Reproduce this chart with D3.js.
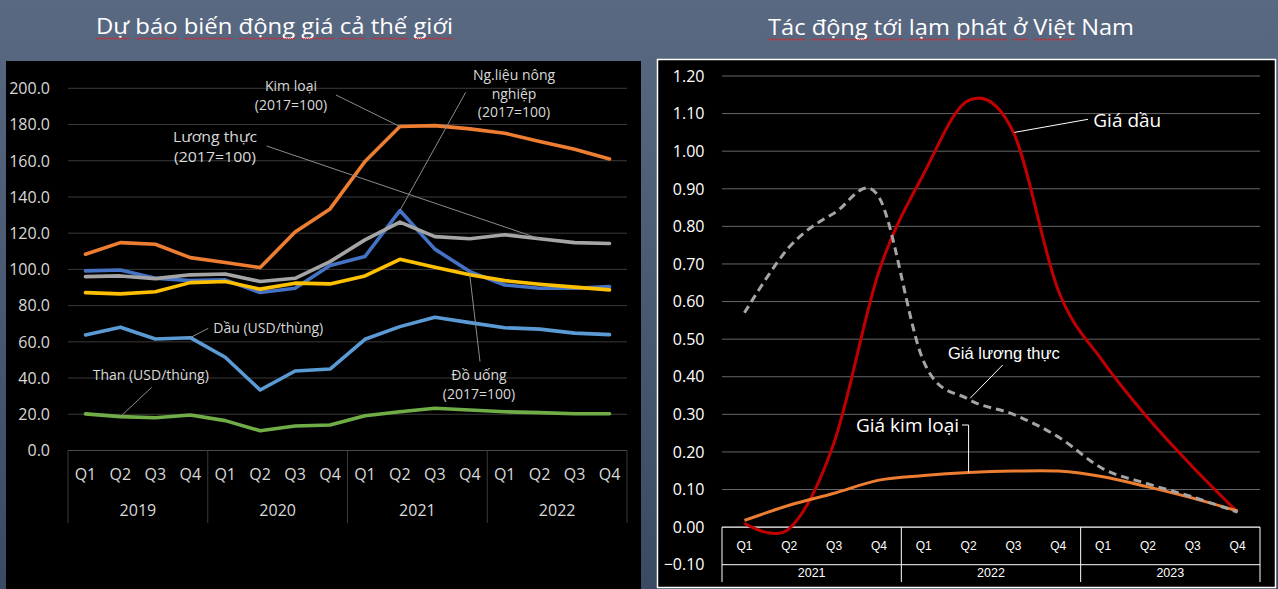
<!DOCTYPE html>
<html><head><meta charset="utf-8">
<script src="https://cdn.jsdelivr.net/npm/d3@7"></script>
<style>
html,body{margin:0;padding:0;width:1278px;height:589px;overflow:hidden;background:#56657f;}
svg{display:block}
</style></head><body>
<svg id="c" width="1278" height="589"></svg>
<script>
// ---------------- DATA: left chart ----------------
const leftQuarters = ["Q1","Q2","Q3","Q4"];
const leftYears = ["2019","2020","2021","2022"];
const leftTicks = [0,20,40,60,80,100,120,140,160,180,200];
const kimLoai   = [108.4,114.8,113.9,106.5,103.8,101.0,120.6,133.4,159.6,178.9,179.4,177.6,175.2,170.6,166.4,161.0];
const luongThuc = [96.0,96.4,94.9,97.0,97.5,93.3,95.1,104.3,116.3,126.1,118.1,116.9,119.1,116.9,114.8,114.3];
const ngLieu    = [99.2,99.7,95.1,93.8,94.2,87.2,89.6,102.1,107.1,132.5,111.2,98.8,91.4,89.6,89.6,90.5];
const doUong    = [87.2,86.5,87.7,92.7,93.3,89.1,92.4,92.0,96.4,105.6,101.2,97.0,93.8,91.8,90.2,88.7];
const dau       = [63.8,68.1,61.6,62.3,51.5,33.4,43.9,45.0,61.4,68.4,73.6,70.6,67.8,67.0,64.8,64.0];
const than      = [20.2,18.7,18.1,19.6,16.5,10.9,13.5,14.1,19.2,21.4,23.3,22.4,21.4,20.9,20.3,20.3];

// ---------------- DATA: right chart ----------------
const rightQuarters = ["Q1","Q2","Q3","Q4"];
const rightYears = ["2021","2022","2023"];
const rightTicks = [-0.1,0,0.1,0.2,0.3,0.4,0.5,0.6,0.7,0.8,0.9,1.0,1.1,1.2];
const giaDau       = [0.01,-0.004,0.225,0.68,0.94,1.135,1.05,0.63,0.44,0.29,0.16,0.04];
const giaLuongThuc = [0.57,0.745,0.835,0.878,0.44,0.34,0.30,0.24,0.155,0.115,0.08,0.04];
const giaKimLoai   = [0.018,0.058,0.09,0.125,0.137,0.145,0.149,0.149,0.134,0.107,0.077,0.043];

const FONT = "'Open Sans', 'DejaVu Sans', sans-serif";
const ARIAL = "'Liberation Sans', Arial, sans-serif";
const svg = d3.select("#c");

// background gradient
const defs = svg.append("defs");
const g0 = defs.append("linearGradient").attr("id","bg").attr("x1",0).attr("y1",0).attr("x2",0).attr("y2",1);
g0.append("stop").attr("offset","0%").attr("stop-color","#5a6982");
g0.append("stop").attr("offset","100%").attr("stop-color","#3b4a63");
svg.append("rect").attr("width",1278).attr("height",589).attr("fill","url(#bg)");

// panels
svg.append("rect").attr("x",6).attr("y",61).attr("width",635).attr("height",530).attr("fill","#000");
svg.append("rect").attr("x",657.5).attr("y",59.5).attr("width",618).attr("height",528).attr("fill","#000").attr("stroke","#fff").attr("stroke-width",1.5);

// titles with wavy spell-check underline
function title(txt, cx, y, len, skipLast){
  const t = svg.append("text").attr("x",cx).attr("y",y).attr("text-anchor","middle")
    .attr("font-family",FONT).attr("font-size",22).attr("fill","#fff")
    .attr("textLength",len).attr("lengthAdjust","spacingAndGlyphs").text(txt);
  const node = t.node();
  const words = txt.split(" ");
  let idx = 0;
  words.forEach((w,wi)=>{
    const s = idx, e = idx + w.length - 1;
    idx += w.length + 1;
    if (skipLast && wi === words.length-1) return;
    const x0 = node.getStartPositionOfChar(s).x;
    const x1 = node.getEndPositionOfChar(e).x;
    let d = "M"+x0+","+(y+4);
    for (let x=x0; x<x1; x+=2){ d += "L"+Math.min(x+2,x1)+","+(y+4+((Math.round((x-x0)/2)%2===0)?1.3:-0.2)); }
    svg.append("path").attr("d",d).attr("fill","none").attr("stroke","#e02020").attr("stroke-width",0.9);
  });
}
title("Dự báo biến động giá cả thế giới", 274.5, 34, 357, false);
title("Tác động tới lạm phát ở Việt Nam", 951, 35, 366, true);

// ---------------- LEFT CHART ----------------
const xL = d3.scaleBand().domain(d3.range(16)).range([68,627]);
const yL = d3.scaleLinear().domain([0,200]).range([450.5,88.3]);
const cxL = i => xL(i) + xL.bandwidth()/2;
const L = svg.append("g");

L.selectAll(".gl").data(leftTicks.filter(d=>d>0)).join("line")
  .attr("x1",68).attr("x2",627).attr("y1",d=>yL(d)).attr("y2",d=>yL(d))
  .attr("stroke","#3a3a3a").attr("stroke-width",1);
L.append("line").attr("x1",68).attr("x2",627).attr("y1",yL(0)).attr("y2",yL(0)).attr("stroke","#4a4a4a");
L.selectAll(".yl").data(leftTicks).join("text")
  .attr("x",50).attr("y",d=>yL(d)).attr("dy","0.36em").attr("text-anchor","end")
  .attr("font-family",FONT).attr("font-size",16).attr("fill","#d9d9d9")
  .text(d=>d3.format(".1f")(d));
// category axis
L.selectAll(".ql").data(d3.range(16)).join("text")
  .attr("x",i=>cxL(i)).attr("y",480).attr("text-anchor","middle")
  .attr("font-family",FONT).attr("font-size",16).attr("fill","#d9d9d9")
  .text(i=>leftQuarters[i%4]);
L.selectAll(".yr").data(leftYears).join("text")
  .attr("x",(d,i)=>(xL(i*4)+xL(i*4+3)+xL.bandwidth())/2).attr("y",516).attr("text-anchor","middle")
  .attr("font-family",FONT).attr("font-size",16).attr("fill","#d9d9d9").text(d=>d);
L.selectAll(".sep").data([0,4,8,12,16]).join("line")
  .attr("x1",i=>i<16?xL(i):xL(15)+xL.bandwidth()).attr("x2",i=>i<16?xL(i):xL(15)+xL.bandwidth())
  .attr("y1",yL(0)).attr("y2",523).attr("stroke","#3a3a3a");

const lineL = d3.line().x((d,i)=>cxL(i)).y(d=>yL(d));
const leftSeries = [
  [ngLieu,"#4472C4"],[luongThuc,"#A5A5A5"],[doUong,"#FFC000"],
  [kimLoai,"#ED7D31"],[dau,"#5B9BD5"],[than,"#70AD47"]
];
leftSeries.forEach(([data,col])=>{
  L.append("path").attr("d",lineL(data)).attr("fill","none").attr("stroke",col)
   .attr("stroke-width",3.6).attr("stroke-linejoin","round").attr("stroke-linecap","round");
});

// left annotations
function lbl(g, lines, x, y0, step, anchor, size, fill, fam, lens){
  lines.forEach((s,k)=>{
    const t = g.append("text").attr("x",x).attr("y",y0+k*step).attr("text-anchor",anchor)
     .attr("font-family",fam||FONT).attr("font-size",size).attr("fill",fill).text(s);
    if (lens && lens[k]) t.attr("textLength",lens[k]).attr("lengthAdjust","spacingAndGlyphs");
  });
}
function leader(g, pts, col){
  g.append("path").attr("d",d3.line()(pts)).attr("fill","none").attr("stroke",col).attr("stroke-width",1);
}
const LC = "#d9d9d9", LL = "#8c8c8c";
lbl(L,["Kim loại","(2017=100)"],291,91,19,"middle",14,LC);
leader(L,[[336,95],[cxL(9),yL(kimLoai[9])]],LL);
lbl(L,["Ng.liệu nông","nghiệp","(2017=100)"],514,80,18.5,"middle",14,LC);
leader(L,[[465.7,92.3],[cxL(9),yL(ngLieu[9])]],LL);
lbl(L,["Lương thực","(2017=100)"],215,141.5,20,"middle",15,LC,null,[84,82]);
leader(L,[[266.7,146],[cxL(13),yL(luongThuc[13])]],LL);
lbl(L,["Dầu (USD/thùng)"],213.3,333,0,"start",14,LC);
leader(L,[[208.3,328.3],[cxL(3),yL(dau[3])]],LL);
lbl(L,["Than (USD/thùng)"],92.7,380,0,"start",14,LC);
leader(L,[[151.7,387.3],[cxL(1),yL(than[1])]],LL);
lbl(L,["Đồ uống","(2017=100)"],479,380,19.3,"middle",14,LC);
leader(L,[[480,361.7],[cxL(11),yL(doUong[11])]],LL);

// ---------------- RIGHT CHART ----------------
const xR = d3.scaleBand().domain(d3.range(12)).range([722,1260]);
const yR = d3.scaleLinear().domain([-0.1,1.2]).range([564.7,76]);
const cxR = i => xR(i) + xR.bandwidth()/2;
const R = svg.append("g");

R.selectAll(".gr").data(rightTicks.filter(d=>d>0.001)).join("line")
  .attr("x1",722).attr("x2",1260).attr("y1",d=>yR(d)).attr("y2",d=>yR(d))
  .attr("stroke","#808080").attr("stroke-width",0.8);
R.selectAll(".yr").data(rightTicks).join("text")
  .attr("x",704.5).attr("y",d=>yR(d)).attr("dy","0.36em").attr("text-anchor","end")
  .attr("font-family",FONT).attr("font-size",16).attr("fill","#fff")
  .text(d=>d3.format(".2f")(d));
// axis box
R.append("line").attr("x1",722).attr("x2",1260).attr("y1",yR(0)).attr("y2",yR(0)).attr("stroke","#fff").attr("stroke-width",1.2);
R.append("line").attr("x1",722).attr("x2",1260).attr("y1",yR(-0.1)).attr("y2",yR(-0.1)).attr("stroke","#fff").attr("stroke-width",1);
R.selectAll(".sepr").data([0,4,8,12]).join("line")
  .attr("x1",i=>i<12?xR(i):xR(11)+xR.bandwidth()).attr("x2",i=>i<12?xR(i):xR(11)+xR.bandwidth())
  .attr("y1",yR(0)).attr("y2",582).attr("stroke","#fff").attr("stroke-width",1);
R.selectAll(".qr").data(d3.range(12)).join("text")
  .attr("x",i=>cxR(i)).attr("y",549.5).attr("text-anchor","middle")
  .attr("font-family",ARIAL).attr("font-size",12).attr("fill","#fff").text(i=>rightQuarters[i%4]);
R.selectAll(".yrr").data(rightYears).join("text")
  .attr("x",(d,i)=>(xR(i*4)+xR(i*4+3)+xR.bandwidth())/2).attr("y",576.5).attr("text-anchor","middle")
  .attr("font-family",ARIAL).attr("font-size",12.5).attr("fill","#fff").text(d=>d);

const lineR = d3.line().x((d,i)=>cxR(i)).y(d=>yR(d)).curve(d3.curveCardinal.tension(0));
R.append("path").attr("d",lineR(giaDau)).attr("fill","none").attr("stroke","#C00000").attr("stroke-width",3);
R.append("path").attr("d",lineR(giaKimLoai)).attr("fill","none").attr("stroke","#ED7D31").attr("stroke-width",3);
R.append("path").attr("d",lineR(giaLuongThuc)).attr("fill","none").attr("stroke","#A5A5A5").attr("stroke-width",3)
  .attr("stroke-dasharray","8,5");

// right annotations
lbl(R,["Giá dầu"],1093.3,126.7,0,"start",19,"#fff");
leader(R,[[1088,119.3],[cxR(6)+1,yR(giaDau[6])]],"#fff");
lbl(R,["Giá lương thực"],948,359.3,0,"start",16.5,"#fff",ARIAL);
leader(R,[[1002.7,365],[cxR(5)+1.5,yR(giaLuongThuc[5])-1]],"#fff");
lbl(R,["Giá kim loại"],856,431.7,0,"start",19,"#fff");
leader(R,[[962,425],[cxR(5),425],[cxR(5),yR(giaKimLoai[5])]],"#fff");
</script>
</body></html>
